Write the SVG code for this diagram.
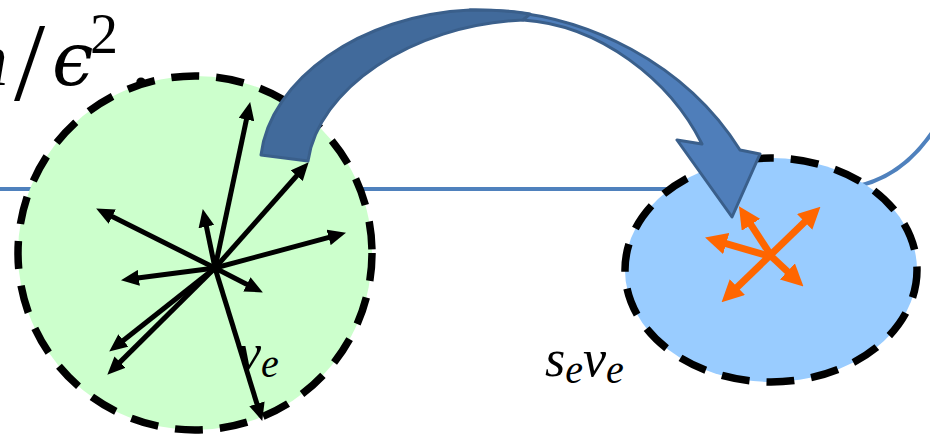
<svg xmlns="http://www.w3.org/2000/svg" width="930" height="434" viewBox="0 0 930 434">
<defs>
<style>
.math{font-style:italic;fill:#000}
.up{font-style:normal;fill:#000}
.vec{stroke:#000;stroke-width:5;fill:none;marker-end:url(#ah)}
.ovec{stroke:#FF6600;stroke-width:7;fill:none;marker-end:url(#oh)}
.dash{stroke:#000;stroke-width:7.5;stroke-dasharray:28 17;}
</style>
<marker id="ah" markerUnits="userSpaceOnUse" markerWidth="18" markerHeight="16" viewBox="0 0 18 16" refX="9" refY="8" orient="auto">
<path d="M0,0 L18,8 L0,16 z" fill="#000"/>
</marker>
<marker id="oh" markerUnits="userSpaceOnUse" markerWidth="22" markerHeight="22" viewBox="0 0 22 22" refX="10" refY="11" orient="auto-start-reverse">
<path d="M0,0 L22,11 L0,22 z" fill="#FF6600"/>
</marker>
</defs>
<rect width="930" height="434" fill="#fff"/>

<g id="connectors">
<path id="baseline" d="M0,189 H830 Q900,189 940,120" fill="none" stroke="#4F81BD" stroke-width="4"/>
</g>

<g id="title" font-family="'Liberation Serif', 'DejaVu Serif', serif">
<text class="math" font-size="76" x="-30" y="85">n</text>
<text class="up" font-size="112" x="14" y="100">/</text>
<text class="math" font-size="74" x="52" y="85" font-family="'DejaVu Serif', serif">ϵ</text>
<text class="up" font-size="56" x="90" y="53">2</text>
<text class="up" font-size="80" x="131" y="86">.</text>
</g>

<g id="sourceNode">
<circle cx="195" cy="253" r="177" fill="#CCFFCC" class="dash"/>
<text class="math" font-family="'Liberation Serif', serif" font-size="52" x="238" y="370">v<tspan font-size="40" y="377">e</tspan></text>
<line class="vec" x1="215" y1="268" x2="248.3" y2="110.8"/>
<line class="vec" x1="215" y1="268" x2="302.7" y2="169.0"/>
<line class="vec" x1="215" y1="268" x2="337.3" y2="235.1"/>
<line class="vec" x1="215" y1="268" x2="104.2" y2="212.6"/>
<line class="vec" x1="215" y1="268" x2="204.6" y2="217.8"/>
<line class="vec" x1="215" y1="268" x2="129.9" y2="279.0"/>
<line class="vec" x1="215" y1="268" x2="254.9" y2="288.4"/>
<line class="vec" x1="215" y1="268" x2="116.3" y2="346.0"/>
<line class="vec" x1="215" y1="268" x2="113.7" y2="368.4"/>
<line class="vec" x1="215" y1="268" x2="259.6" y2="412.4"/>
</g>

<g id="targetNode">
<ellipse cx="771" cy="270" rx="146" ry="112" fill="#99CCFF" class="dash"/>
<text class="math" font-family="'Liberation Serif', serif" font-size="52" x="545" y="376">s<tspan font-size="40" y="383">e</tspan><tspan font-size="52" y="376">v</tspan><tspan font-size="40" y="383">e</tspan></text>
</g>

<g id="bigArrow" stroke="#3A5F8B" stroke-width="3" stroke-linejoin="round">
<path d="M470,10 C590,8 690,70 740,150 L760,154 L732,217 L677,140 L702,144 C670,80 600,25 523,20 Z" fill="#4F7EBA"/>
<path d="M261,155 C270,80 360,15 470,10 C490,10 515,11 530,14 L523,20 C410,25 318,90 308,161 Z" fill="#416A9B"/>
</g>

<g id="orangeArrows">
<line class="ovec" x1="730.2" y1="294.0" x2="811.8" y2="215.0" marker-start="url(#oh)"/>
<line class="ovec" x1="772" y1="257" x2="716.6" y2="240.8"/>
<line class="ovec" x1="772" y1="257" x2="745.5" y2="216.4"/>
<line class="ovec" x1="772" y1="257" x2="794.7" y2="278.2"/>
</g>
</svg>
